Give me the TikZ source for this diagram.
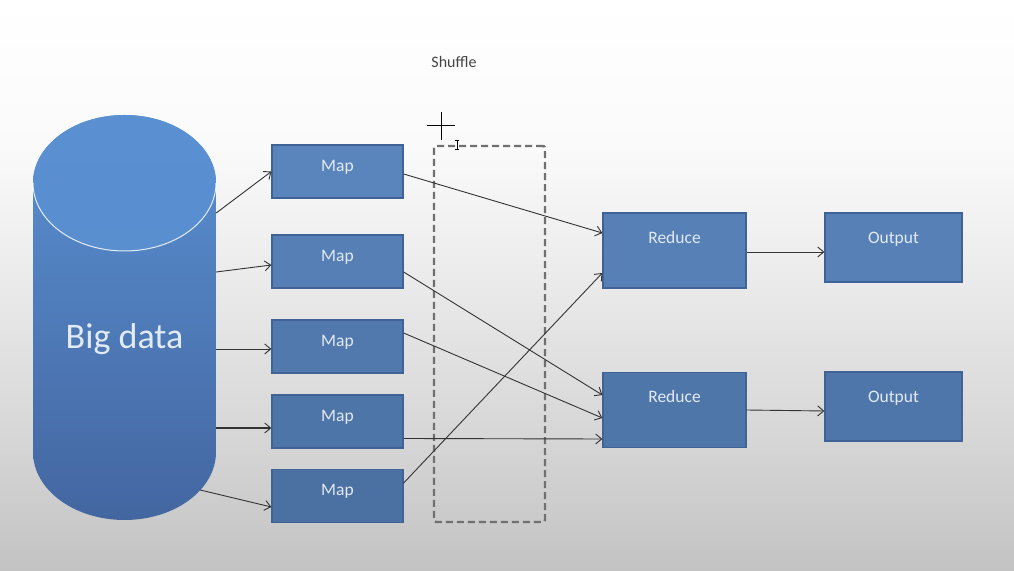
\documentclass[tikz,border=0pt]{standalone}
\usepackage{fontspec}
\newfontfamily\carlito{Carlito}
\usetikzlibrary{arrows.meta}

% palette
\definecolor{bgA}{HTML}{C3C3C3}
\definecolor{bgB}{HTML}{D6D6D6}
\definecolor{bgC}{HTML}{ECECEC}
\definecolor{bgD}{HTML}{FAFAFA}
\definecolor{boxtop}{HTML}{5B87BF}
\definecolor{boxbot}{HTML}{486C9D}
\definecolor{boxline}{HTML}{3F6397}
\definecolor{boxtxt}{HTML}{E2EAF4}
\definecolor{cyltop}{HTML}{5A90D2}
\definecolor{cylbot}{HTML}{4366A0}
\definecolor{linec}{HTML}{333333}
\definecolor{dashc}{HTML}{707070}
\definecolor{labelc}{HTML}{444444}

% background: white at the top, grey towards the bottom
\pgfdeclareverticalshading{bgshade}{100bp}{color(0bp)=(bgA); color(25bp)=(bgA); color(36.5bp)=(bgB); color(51.5bp)=(bgC); color(62bp)=(bgD); color(75bp)=(white); color(100bp)=(white)}

\begin{document}
\begin{tikzpicture}[x=1pt,y=1pt,
  procbox/.style={draw=boxline, line width=1.3pt, inner sep=0pt},
  mapbox/.style={procbox, minimum width=131pt, minimum height=53pt},
  redbox/.style={procbox, minimum width=143pt, minimum height=75pt},
  outbox/.style={procbox, minimum width=137pt, minimum height=69pt},
  boxtext/.style={font={\carlito\fontsize{17.5pt}{20pt}\selectfont}, text=boxtxt, anchor=base, inner sep=0pt},
  flow/.style={draw=linec, line width=0.9pt, -{Straight Barb[length=6pt,width=10pt,line width=0.9pt]}},
  dashbox/.style={draw=dashc, line width=2.4pt, dash pattern=on 7pt off 4pt, rounded corners=2pt, inner sep=0pt}]

\useasboundingbox (0,0) rectangle (1014,570);

% background
\shade[shading=bgshade] (0,0) rectangle (1014,570);

% big data store (cylinder)
\shade[top color=cyltop, bottom color=cylbot]
  (33,387) -- (33,118)
  arc[start angle=180, end angle=360, x radius=91.5pt, y radius=68pt]
  -- (216,387)
  arc[start angle=0, end angle=180, x radius=91.5pt, y radius=68pt] -- cycle;
\shade[top color=cyltop, bottom color=cyltop!94!cylbot]
  (124.5,387) ellipse [x radius=91.5pt, y radius=68pt];
\draw[white, opacity=0.85, line width=1pt]
  (33,387) arc[start angle=180, end angle=360, x radius=91.5pt, y radius=68pt];
\node[inner sep=0pt, minimum width=183pt, minimum height=405pt] (bd) at (124.5,252.5) {};
\node[font={\carlito\fontsize{36pt}{40pt}\selectfont}, text=boxtxt, anchor=base, inner sep=0pt]
  (bdlabel) at (124.5,221) {Big data};

% shuffle region
\node[dashbox, minimum width=111pt, minimum height=376pt] (sh) at (489.5,236) {};
\node[font={\carlito\fontsize{16pt}{19pt}\selectfont}, text=labelc, anchor=base, inner sep=0pt]
  (shlabel) at (454,502) {Shuffle};

% map tasks
\node[mapbox, fill=boxbot!8!boxtop]  (m1) at (337.5,398.5) {};
\node[mapbox, fill=boxbot!30!boxtop] (m2) at (337.5,308.5) {};
\node[mapbox, fill=boxbot!50!boxtop] (m3) at (337.5,223.5) {};
\node[mapbox, fill=boxbot!68!boxtop] (m4) at (337.5,148.5) {};
\node[mapbox, fill=boxbot!85!boxtop] (m5) at (337.5,74) {};
\foreach \m in {m1,m2,m3,m4,m5}
  \node[boxtext] (\m t) at ([yshift=-27pt]\m.north) {Map};

% reduce tasks
\node[redbox, fill=boxbot!26!boxtop] (r1) at (674.5,319.5) {};
\node[redbox, fill=boxbot!64!boxtop] (r2) at (674.5,160) {};
\node[boxtext] (r1t) at ([yshift=-31pt]r1.north) {Reduce};
\node[boxtext] (r2t) at ([yshift=-31pt]r2.north) {Reduce};

% outputs
\node[outbox, fill=boxbot!25!boxtop] (o1) at (893.5,322.5) {};
\node[outbox, fill=boxbot!62!boxtop] (o2) at (893.5,163.5) {};
\node[boxtext] (o1t) at ([yshift=-31pt]o1.north) {Output};
\node[boxtext] (o2t) at ([yshift=-31pt]o2.north) {Output};

% data split into map tasks
\draw[flow] ([yshift=104.5pt]bd.east) -- (m1.west);
\draw[flow] ([yshift=45.5pt]bd.east) -- ([yshift=-3.5pt]m2.west);
\draw[flow] ([yshift=-31.5pt]bd.east) -- ([yshift=-2.5pt]m3.west);
\draw[flow, line width=1.6pt] ([yshift=-110.5pt]bd.east) -- ([yshift=-6.5pt]m4.west);
\draw[flow] ([xshift=-16pt,yshift=-172.5pt]bd.east) -- ([yshift=-11pt]m5.west);

% shuffle: map outputs to reducers
\draw[flow] ([yshift=-2.5pt]m1.east) -- ([yshift=17.5pt]r1.west);
\draw[flow] ([yshift=-10.5pt]m2.east) -- ([yshift=15pt]r2.west);
\draw[flow] ([yshift=13.5pt]m3.east) -- ([yshift=-8pt]r2.west);
\draw[flow] ([yshift=-17pt]m4.east) -- ([yshift=-29pt]r2.west);
\draw[flow] ([yshift=13pt]m5.east) -- ([yshift=-22.5pt]r1.west);

% reducers to outputs
\draw[flow] ([yshift=-1.5pt]r1.east) -- ([yshift=-4.5pt]o1.west);
\draw[flow] (r2.east) -- ([yshift=-4.5pt]o2.west);

% mouse pointer: crosshair and text cursor
\draw[black, line width=1pt] (427,444) -- (455,444) (441,458) -- (441,430);
\draw[black, line width=1pt] (457,429.5) -- (457,420) (455,429.5) -- (459,429.5) (455,420) -- (459,420);

\end{tikzpicture}
\end{document}
